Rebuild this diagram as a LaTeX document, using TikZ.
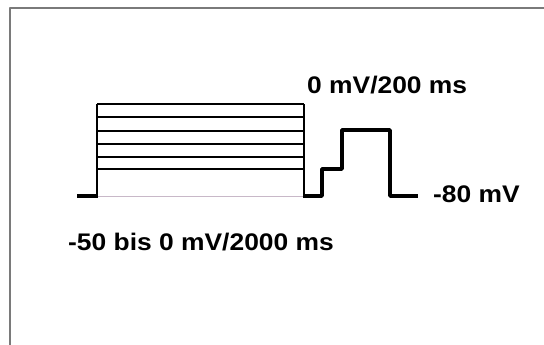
\documentclass[tikz,border=0pt]{standalone}
\usepackage{fontspec}
\setmainfont{Liberation Sans}[FakeStretch=1.1]
\definecolor{frame}{HTML}{7a7a7a}
\definecolor{trace}{HTML}{000000}
\definecolor{zeroline}{HTML}{c8b8c8}

\begin{document}
\begin{tikzpicture}[x=1pt, y=-1pt, font=\fontsize{24}{24}\selectfont\bfseries, line join=round]
\useasboundingbox (0,0) rectangle (544,345);
\fill[white] (0,0) rectangle (544,345);
\draw[frame, line width=2.4pt] (10,345) -- (10,8) -- (544,8);
\newcommand{\holdlevel}[2]{%
  \draw[trace, line width=#2] (97,#1) -- (304,#1);}
\holdlevel{104}{1.2pt}
\holdlevel{117}{2.6pt}
\holdlevel{131}{2pt}
\holdlevel{144}{2pt}
\holdlevel{157}{2pt}
\holdlevel{169}{2.2pt}
\draw[zeroline, line width=0.8pt] (97,196) -- (304,196);
\draw[trace, line width=1.2pt] (97,196) -- (97,104);
\draw[trace, line width=1.2pt] (304,196) -- (304,104);
\draw[trace, line width=3.6pt] (77,196) -- (97.6,196);
\draw[trace, line width=3.6pt] (303.4,196) -- (322,196) -- (322,169)
  -- (342,169) -- (342,130) -- (390,130) -- (390,196) -- (418,196);
\node[anchor=base west, inner sep=0] (test) at (307,94) {0 mV/200 ms};
\node[anchor=base west, inner sep=0] (rest) at (433,202) {-80 mV};
\node[anchor=base west, inner sep=0] (hold) at (68,250) {-50 bis 0 mV/2000 ms};
\end{tikzpicture}
\end{document}
